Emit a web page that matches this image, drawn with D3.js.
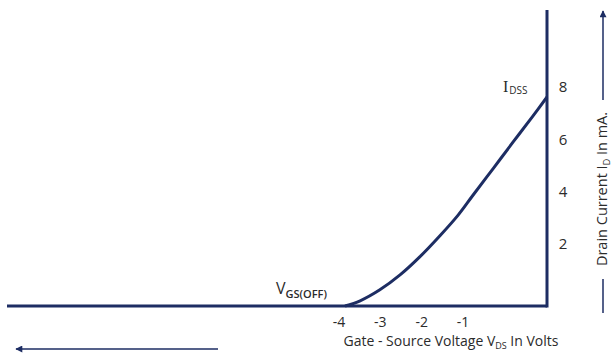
<!DOCTYPE html>
<html>
<head>
<meta charset="utf-8">
<script src="https://cdn.jsdelivr.net/npm/d3@7"></script>
<style>
  body { margin: 0; background: #fff; }
  text { font-family: "Open Sans", "Noto Sans", sans-serif; fill: #2b2b2b; }
</style>
</head>
<body>
<div id="chart"></div>
<script>
// transfer curve points (gate voltage in V, drain current in mA)
const vgs = [-4, -3.7, -3.31, -2.91, -2.52, -2.12, -1.76, -1.47, -1.07, -0.67, -0.28, 0];
const idrain = [0, 0.2, 0.62, 1.19, 1.88, 2.69, 3.48, 4.23, 5.25, 6.28, 7.27, 8];
const yTicks = [2, 4, 6, 8];
const xTicks = [-4, -3, -2, -1];

const width = 613, height = 356;
const navy = "#1d2d63";

const svg = d3.select("#chart").append("svg")
  .attr("width", width)
  .attr("height", height);

// scales
const x = d3.scaleLinear().domain([-4, 0]).range([345, 547]);
const y = d3.scaleLinear().domain([0, 8]).range([306, 97]);
// tick labels sit on their own spacing in the drawing
const xLab = d3.scaleLinear().domain([-4, -1]).range([339, 463]);

const defs = svg.append("defs");
defs.append("marker")
  .attr("id", "arrow")
  .attr("viewBox", "0 0 10 10")
  .attr("refX", 9).attr("refY", 5)
  .attr("markerWidth", 9).attr("markerHeight", 7)
  .attr("markerUnits", "userSpaceOnUse")
  .attr("orient", "auto")
  .append("path")
  .attr("d", "M0,0 L10,5 L0,10 Z")
  .attr("fill", navy);

// axes lines
svg.append("line")
  .attr("x1", 7).attr("x2", x(0))
  .attr("y1", y(0)).attr("y2", y(0))
  .attr("stroke", navy).attr("stroke-width", 3);

svg.append("line")
  .attr("x1", x(0)).attr("x2", x(0))
  .attr("y1", 10).attr("y2", y(0) + 1.5)
  .attr("stroke", navy).attr("stroke-width", 3);

// curve
const pts = vgs.map((v, i) => [v, idrain[i]]);
const line = d3.line()
  .x(d => x(d[0]))
  .y(d => y(d[1]))
  .curve(d3.curveCatmullRom);

svg.append("path")
  .datum(pts)
  .attr("d", line)
  .attr("fill", "none")
  .attr("stroke", navy)
  .attr("stroke-width", 3);

// y tick labels
svg.selectAll(".ylab")
  .data(yTicks)
  .enter().append("text")
  .attr("class", "ylab")
  .attr("x", 563)
  .attr("y", d => y(d) - 10)
  .attr("dy", "0.35em")
  .attr("text-anchor", "middle")
  .style("font-size", "15px")
  .text(d => d);

// x tick labels
svg.selectAll(".xlab")
  .data(xTicks)
  .enter().append("text")
  .attr("class", "xlab")
  .attr("x", d => xLab(d))
  .attr("y", 327)
  .attr("text-anchor", "middle")
  .style("font-size", "14px")
  .text(d => d);

// x axis title
const xt = svg.append("text")
  .attr("x", 451)
  .attr("y", 346)
  .attr("text-anchor", "middle")
  .style("font-size", "14px");
xt.append("tspan").text("Gate - Source Voltage V");
xt.append("tspan").attr("dy", 3).style("font-size", "9px").text("DS");
xt.append("tspan").attr("dy", -3).text(" In Volts");

// left arrow under x axis
svg.append("line")
  .attr("x1", 218).attr("x2", 16)
  .attr("y1", 349).attr("y2", 349)
  .attr("stroke", navy).attr("stroke-width", 1.5)
  .attr("marker-end", "url(#arrow)");

// y axis title, rotated
const yt = svg.append("text")
  .attr("transform", "translate(607, 189) rotate(-90)")
  .attr("text-anchor", "middle")
  .style("font-size", "14.5px");
yt.append("tspan").text("Drain Current  I");
yt.append("tspan").attr("dy", 3).style("font-size", "9px").text("D");
yt.append("tspan").attr("dy", -3).text(" In mA.");

// up arrow beside y title
svg.append("line")
  .attr("x1", 603).attr("x2", 603)
  .attr("y1", 279).attr("y2", 313)
  .attr("stroke", navy).attr("stroke-width", 1.5);
svg.append("line")
  .attr("x1", 603).attr("x2", 603)
  .attr("y1", 100).attr("y2", 11)
  .attr("stroke", navy).attr("stroke-width", 1.5)
  .attr("marker-end", "url(#arrow)");

// annotations
const vo = svg.append("text")
  .attr("x", 276)
  .attr("y", 294)
  .style("font-size", "16px");
vo.append("tspan").text("V");
vo.append("tspan").attr("dy", 4).style("font-size", "11px").style("font-weight", "600").text("GS(OFF)");

const id = svg.append("text")
  .attr("x", 503)
  .attr("y", 92)
  .style("font-family", "'Liberation Serif', serif")
  .style("font-size", "16px");
id.append("tspan").text("I");
id.append("tspan").attr("dy", 2).attr("dx", 1)
  .style("font-family", "'Open Sans', sans-serif")
  .style("font-size", "10px").text("DSS");
</script>
</body>
</html>
